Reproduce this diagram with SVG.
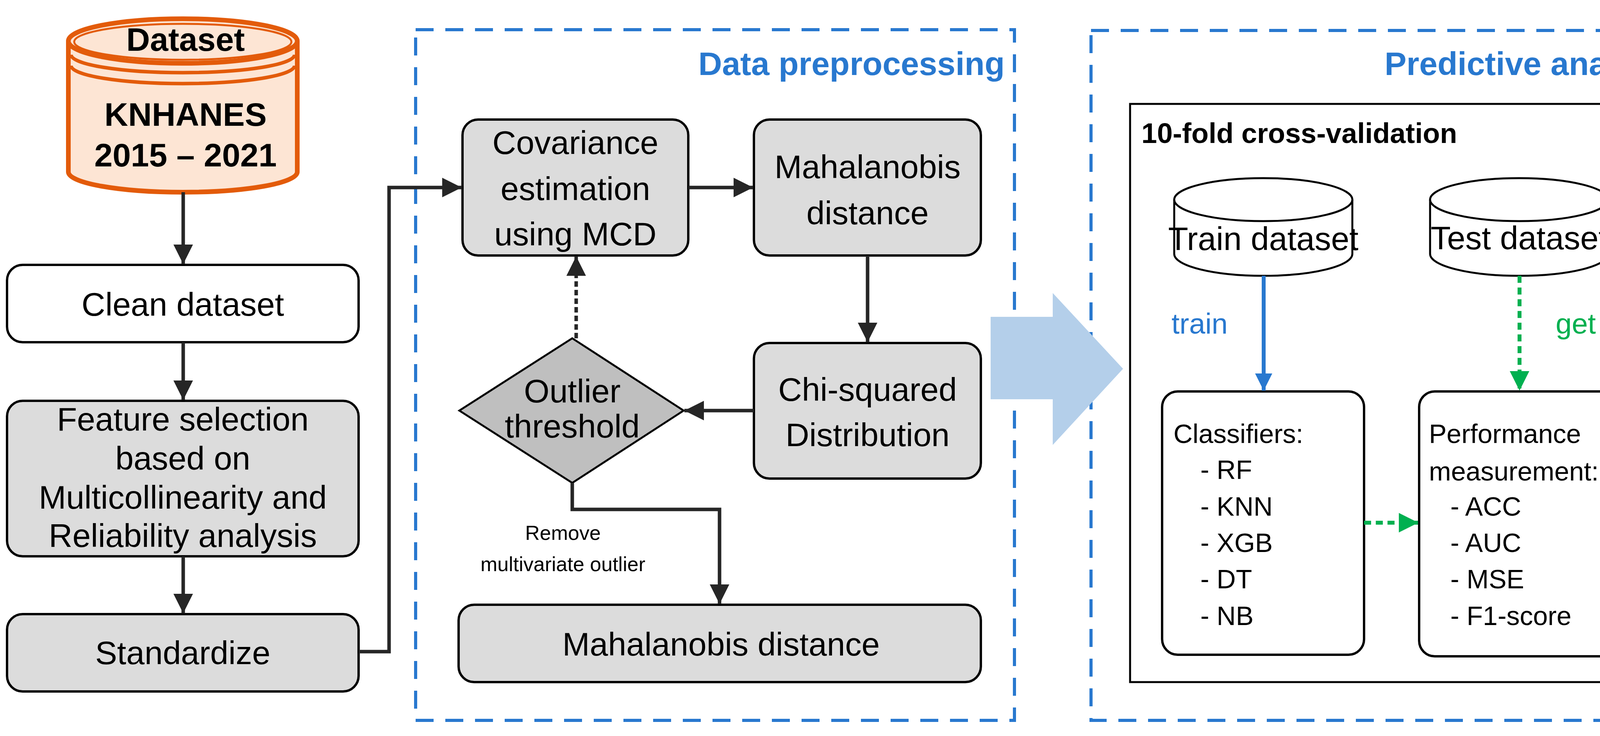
<svg xmlns="http://www.w3.org/2000/svg" width="4356" height="1884" viewBox="0 0 4356 1884">
<style>
text{font-family:"Liberation Sans",Arial,sans-serif;fill:#000}
.t{font-size:84px;text-anchor:middle}
.b{font-weight:bold}
.box{fill:#dcdcdc;stroke:#000;stroke-width:6}
.wbox{fill:#fff;stroke:#000;stroke-width:6}
.ln{fill:none;stroke:#262626;stroke-width:9}
.dash{fill:none;stroke:#2878cf;stroke-width:8;stroke-dasharray:46 30}
.title{font-size:84px;font-weight:bold;fill:#2878cf;text-anchor:end}
.li{font-size:68px}
</style>
<defs>
<marker id="ah" markerUnits="userSpaceOnUse" viewBox="0 0 10 10" refX="10" refY="5" markerWidth="50" markerHeight="56" orient="auto"><path d="M0,0L10,5L0,10z" fill="#262626"/></marker>
<marker id="ab" markerUnits="userSpaceOnUse" viewBox="0 0 10 10" refX="10" refY="5" markerWidth="50" markerHeight="44" orient="auto"><path d="M0,0L10,5L0,10z" fill="#2878cf"/></marker>
<marker id="ag" markerUnits="userSpaceOnUse" viewBox="0 0 10 10" refX="10" refY="5" markerWidth="50" markerHeight="50" orient="auto"><path d="M0,0L10,5L0,10z" fill="#00b050"/></marker>
</defs>
<rect width="4356" height="1884" fill="#fff"/>

<g id="frames">
<rect class="dash" x="1064" y="76" width="1533" height="1768"/>
<text class="title" x="2572" y="192">Data preprocessing</text>
<rect class="dash" x="2793" y="78" width="1531" height="1766"/>
<text class="title" x="4301" y="192">Predictive analysis</text>
</g>

<g id="dataset">
<path d="M175,105 L175,440 A293,52 0 0 0 761,440 L761,105" fill="#fde5d4" stroke="#e35b0a" stroke-width="12"/>
<ellipse cx="468" cy="105" rx="293" ry="57" fill="#fde5d4" stroke="#e35b0a" stroke-width="12"/>
<ellipse cx="468" cy="107" rx="278" ry="46" fill="none" stroke="#e35b0a" stroke-width="5"/>
<path d="M182,140 A286,46 0 0 0 754,140 M182,168 A286,46 0 0 0 754,168" fill="none" stroke="#e35b0a" stroke-width="9"/>
<text class="t b" x="475" y="130" font-size="64">Dataset</text>
<text class="t b" x="475" y="322" font-size="80">KNHANES</text>
<text class="t b" x="475" y="426" font-size="80">2015 – 2021</text>
</g>
<g id="clean"><rect class="wbox" x="18" y="678" width="900" height="198" rx="40"/><text class="t" x="468" y="808">Clean dataset</text></g>
<g id="feature"><rect class="box" x="18" y="1026" width="900" height="398" rx="40"/>
<text class="t" x="468" y="1102">Feature selection</text><text class="t" x="468" y="1202">based on</text><text class="t" x="468" y="1302">Multicollinearity and</text><text class="t" x="468" y="1400">Reliability  analysis</text></g>
<g id="standardize"><rect class="box" x="18" y="1572" width="900" height="198" rx="40"/><text class="t" x="468" y="1700">Standardize</text></g>

<g id="cov"><rect class="box" x="1184" y="306" width="578" height="348" rx="40"/>
<text class="t" x="1473" y="394">Covariance</text><text class="t" x="1473" y="512">estimation</text><text class="t" x="1473" y="628">using MCD</text></g>
<g id="maha"><rect class="box" x="1930" y="306" width="581" height="348" rx="40"/>
<text class="t" x="2221" y="456">Mahalanobis</text><text class="t" x="2221" y="574">distance</text></g>
<g id="chi"><rect class="box" x="1930" y="878" width="581" height="347" rx="40"/>
<text class="t" x="2221" y="1026">Chi-squared</text><text class="t" x="2221" y="1142">Distribution</text></g>
<g id="outlier"><path d="M1465,866 L1750,1051 L1465,1236 L1176,1051z" fill="#bfbfbf" stroke="#000" stroke-width="5"/>
<text class="t" x="1465" y="1030" font-size="64">Outlier</text><text class="t" x="1465" y="1120" font-size="64">threshold</text></g>
<g id="maha2"><rect class="box" x="1174" y="1548" width="1337" height="198" rx="40"/><text class="t" x="1846" y="1678">Mahalanobis distance</text></g>

<g id="bigarrow"><path d="M2536,811 L2695,811 L2695,750 L2875,944 L2695,1139 L2695,1022 L2536,1022z" fill="#b4cfea"/></g>

<g id="cv"><rect x="2893" y="266" width="1340" height="1480" fill="none" stroke="#000" stroke-width="5"/>
<text class="b" x="2922" y="366" font-size="72">10-fold cross-validation</text></g>
<g id="train"><path d="M3006,511 L3006,650 A228,56 0 0 0 3462,650 L3462,511" fill="#fff" stroke="#000" stroke-width="5"/>
<ellipse cx="3234" cy="511" rx="228" ry="55" fill="#fff" stroke="#000" stroke-width="5"/>
<text class="t" x="3234" y="640" font-size="56">Train dataset</text></g>
<g id="test"><path d="M3661,511 L3661,650 A228,56 0 0 0 4117,650 L4117,511" fill="#fff" stroke="#000" stroke-width="5"/>
<ellipse cx="3889" cy="511" rx="228" ry="55" fill="#fff" stroke="#000" stroke-width="5"/>
<text class="t" x="3889" y="638" font-size="56">Test dataset</text></g>
<g id="classifiers"><rect class="wbox" x="2975" y="1002" width="517" height="674" rx="40"/>
<text class="li" x="3004" y="1134">Classifiers:</text>
<text class="li" x="3073" y="1226">- RF</text><text class="li" x="3073" y="1320">- KNN</text><text class="li" x="3073" y="1413">- XGB</text><text class="li" x="3073" y="1506">- DT</text><text class="li" x="3073" y="1600">- NB</text></g>
<g id="performance"><rect class="wbox" x="3633" y="1002" width="518" height="678" rx="40"/>
<text class="li" x="3658" y="1134" font-size="62">Performance</text><text class="li" x="3658" y="1230" font-size="62">measurement:</text>
<text class="li" x="3713" y="1320">- ACC</text><text class="li" x="3713" y="1413">- AUC</text><text class="li" x="3713" y="1506">- MSE</text><text class="li" x="3713" y="1600">- F1-score</text></g>

<g id="connectors">
<line class="ln" x1="469" y1="492" x2="469" y2="676" marker-end="url(#ah)"/>
<line class="ln" x1="469" y1="876" x2="469" y2="1024" marker-end="url(#ah)"/>
<line class="ln" x1="469" y1="1424" x2="469" y2="1570" marker-end="url(#ah)"/>
<polyline class="ln" points="918,1668 996,1668 996,480 1182,480" marker-end="url(#ah)"/>
<line class="ln" x1="1762" y1="480" x2="1928" y2="480" marker-end="url(#ah)"/>
<line class="ln" x1="2221" y1="654" x2="2221" y2="876" marker-end="url(#ah)"/>
<line class="ln" x1="1930" y1="1051" x2="1752" y2="1051" marker-end="url(#ah)"/>
<line class="ln" x1="1475" y1="866" x2="1475" y2="656" stroke-dasharray="14 8" marker-end="url(#ah)"/>
<polyline class="ln" points="1465,1236 1465,1304 1842,1304 1842,1546" marker-end="url(#ah)"/>
<text x="1441" y="1382" font-size="52" text-anchor="middle">Remove</text>
<text x="1441" y="1462" font-size="52" text-anchor="middle">multivariate outlier</text>
<line x1="3235" y1="706" x2="3235" y2="1000" stroke="#2878cf" stroke-width="10" marker-end="url(#ab)"/>
<text x="3071" y="854" font-size="74" text-anchor="middle" style="fill:#2878cf">train</text>
<line x1="3890" y1="706" x2="3890" y2="1000" stroke="#00b050" stroke-width="10" stroke-dasharray="18 12" marker-end="url(#ag)"/>
<text x="4034" y="854" font-size="74" text-anchor="middle" style="fill:#00b050">get</text>
<line x1="3492" y1="1338" x2="3631" y2="1338" stroke="#00b050" stroke-width="10" stroke-dasharray="18 12" marker-end="url(#ag)"/>
</g>
</svg>
